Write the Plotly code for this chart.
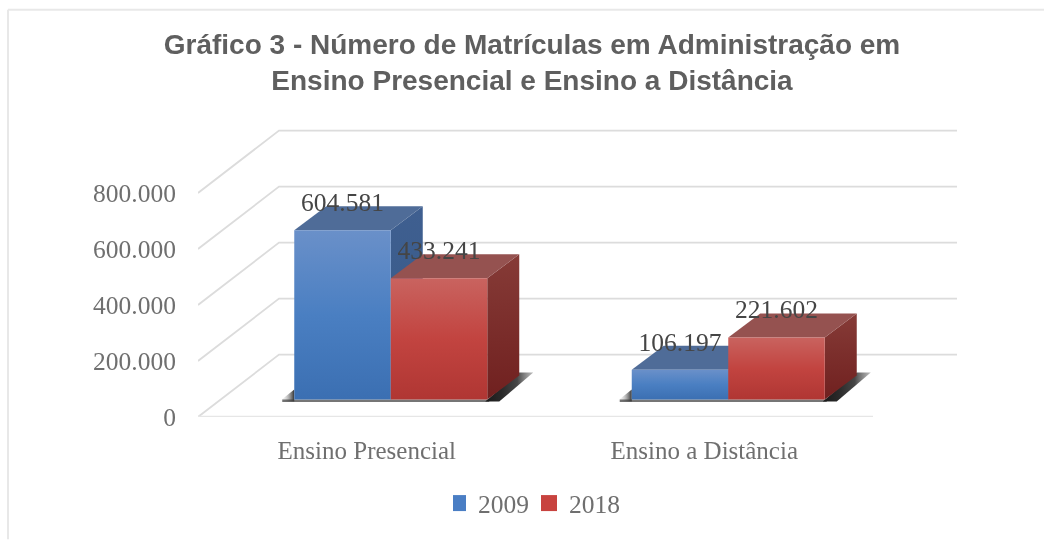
import plotly.graph_objects as go

categories = ["Ensino Presencial", "Ensino a Distância"]
series_names = ["2009", "2018"]
values_2009 = [604581, 106197]
values_2018 = [433241, 221602]
y_ticks = [0, 200000, 400000, 600000, 800000]
y_tick_labels = ["0", "200.000", "400.000", "600.000", "800.000"]
title_text = "Gráfico 3 - Número de Matrículas em Administração em<br>Ensino Presencial e Ensino a Distância"

# plot-area geometry (the front plane of the fake 3D box)
W, H = 1044, 540
L, R, T, B = 198, 957, 120, 417.5
PX_PER_VALUE = 56.1 / 200000
PX_PER_CAT = 337.5
val = lambda px: px / PX_PER_VALUE      # vertical pixels to value units
cat = lambda px: px / PX_PER_CAT        # horizontal pixels to category units

BOX_DX, BOX_DY = cat(81), val(62.5)     # full depth of the box
BAR_DX, BAR_DY = cat(32), val(24)       # depth of a bar
OFF_DX, OFF_DY = cat(24), val(17.5)     # bar front plane relative to chart front
BAR_W = cat(96.5)
LABEL_DY = val(25.5)

GRID = "#dcdcdc"
TEXT = "#6f6f6f"
SERIF = "Liberation Serif"
styles = {
    "2009": dict(front=["#6a90c9", "#4a7fc2", "#3b6fb2"], top="#4f6c98",
                 side=["#3f5f90", "#365a88"], legend="#4a7ec4"),
    "2018": dict(front=["#c9635f", "#c24440", "#b03633"], top="#955250",
                 side=["#863b37", "#70201f"], legend="#c8433f"),
}

fig = go.Figure()


def poly(xs, ys, colors, gtype="vertical"):
    kw = dict(fillcolor=colors) if isinstance(colors, str) else dict(
        fillgradient=dict(
            type=gtype,
            colorscale=[[i / (len(colors) - 1), c] for i, c in enumerate(
                reversed(colors) if gtype == "vertical" else colors)],
        )
    )
    fig.add_trace(go.Scatter(
        x=xs + xs[:1], y=ys + ys[:1], mode="lines", line=dict(width=0), fill="toself",
        showlegend=False, hoverinfo="skip", cliponaxis=False, **kw,
    ))


# gridlines
for v in y_ticks:
    xs = [0, BOX_DX, (R - L) / PX_PER_CAT]
    ys = [v, v + BOX_DY, v + BOX_DY]
    fig.add_trace(go.Scatter(x=xs, y=ys, mode="lines", line=dict(color=GRID, width=1.8),
                             showlegend=False, hoverinfo="skip", cliponaxis=False))
fig.add_trace(go.Scatter(x=[0, 2], y=[0, 0], mode="lines", line=dict(color="#e6e6e6", width=2.5),
                         showlegend=False, hoverinfo="skip", cliponaxis=False))

# bars
for i in range(len(categories)):
    cx = i + 0.5 + OFF_DX
    left, right = cx - BAR_W, cx + BAR_W
    # contact shadow
    poly([left - cat(15), left, left], [OFF_DY - val(2), OFF_DY + val(10), OFF_DY - val(2)],
         ["rgba(255,255,255,0)", "rgba(40,40,40,0.95)"], "horizontal")
    poly([left - cat(12), right + cat(2), right + cat(2), left - cat(12)],
         [OFF_DY - val(2.5), OFF_DY - val(2.5), OFF_DY, OFF_DY], "rgba(60,60,60,0.7)")
    poly([right - cat(2), right + BAR_DX, right + cat(46), right + cat(12)],
         [OFF_DY - val(2), OFF_DY + val(27), OFF_DY + val(27), OFF_DY - val(2)],
         ["rgba(25,25,25,1)", "rgba(35,35,35,0.97)", "rgba(50,50,50,0.9)", "rgba(120,120,120,0.5)"],
         "horizontal")
    for j, (name, values) in enumerate(zip(series_names, [values_2009, values_2018])):
        st = styles[name]
        x0 = cx - BAR_W + j * BAR_W
        x1 = x0 + BAR_W
        v = values[i]
        b = OFF_DY
        t = v + OFF_DY
        poly([x1, x1 + BAR_DX, x1 + BAR_DX, x1], [b, b + BAR_DY, t + BAR_DY, t], st["side"])
        poly([x0, x0 + BAR_DX, x1 + BAR_DX, x1], [t, t + BAR_DY, t + BAR_DY, t], st["top"])
        poly([x0, x1, x1, x0], [b, b, t, t], st["front"])

# data labels
for i in range(len(categories)):
    cx = i + 0.5 + OFF_DX
    for j, values in enumerate([values_2009, values_2018]):
        v = values[i]
        fig.add_trace(go.Scatter(
            x=[cx - BAR_W / 2 + j * BAR_W], y=[v + OFF_DY + LABEL_DY],
            mode="text", text=[f"{v:,}".replace(",", ".")], textposition="middle center",
            textfont=dict(family=SERIF, size=25.5, color="#454545"),
            showlegend=False, hoverinfo="skip", cliponaxis=False,
        ))

# legend entries
for name in series_names:
    fig.add_trace(go.Scatter(
        x=[None], y=[None], mode="markers", name=name,
        marker=dict(symbol="square", size=16, color=styles[name]["legend"]),
    ))

fig.update_layout(
    width=W, height=H, autosize=False,
    paper_bgcolor="white", plot_bgcolor="white",
    margin=dict(l=L, r=W - R, t=T, b=H - B, pad=0),
    title=dict(text=title_text, x=532 / W, xanchor="center", y=1 - 53.5 / H, yanchor="middle",
               font=dict(family="Liberation Sans", size=28, color="#5f5f5f", weight="bold")),
    xaxis=dict(range=[0, (R - L) / PX_PER_CAT], tickmode="array", tickvals=[0.5, 1.5],
               ticktext=categories, showgrid=False, zeroline=False, showline=False,
               ticks="outside", ticklen=11, tickcolor="rgba(0,0,0,0)",
               tickfont=dict(family=SERIF, size=25, color=TEXT)),
    yaxis=dict(range=[0, (B - T) / PX_PER_VALUE], tickmode="array", tickvals=y_ticks,
               ticktext=y_tick_labels, showgrid=False, zeroline=False, showline=False,
               ticks="outside", ticklen=16, tickcolor="rgba(0,0,0,0)",
               tickfont=dict(family=SERIF, size=25.5, color=TEXT)),
    legend=dict(orientation="h", x=544 / W, xref="container", xanchor="center",
                y=1 - 503.5 / H, yref="container", yanchor="middle",
                font=dict(family=SERIF, size=25.5, color=TEXT),
                indentation=-15, tracegroupgap=0, itemwidth=30,
                entrywidth=61, entrywidthmode="pixels"),
    shapes=[
        dict(type="line", xref="paper", yref="paper", x0=(8 - L) / (R - L), x1=(1044 - L) / (R - L),
             y0=(B - 9.5) / (B - T), y1=(B - 9.5) / (B - T), line=dict(color="#e8e8e8", width=2)),
        dict(type="line", xref="paper", yref="paper", x0=(8 - L) / (R - L), x1=(8 - L) / (R - L),
             y0=(B - 9.5) / (B - T), y1=(B - 540) / (B - T), line=dict(color="#e8e8e8", width=2)),
    ],
)

fig.write_html(
    "out.html",
    config=dict(displayModeBar=False),
    post_script="document.body.style.margin='0';"
                "document.querySelector('.plotly-graph-div').style.filter='blur(0.6px)';",
)
